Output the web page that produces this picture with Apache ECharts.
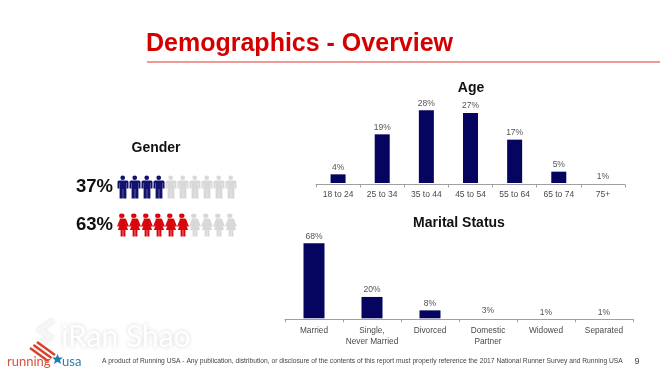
<!DOCTYPE html>
<html><head><meta charset="utf-8">
<style>html,body{margin:0;padding:0;background:#fff}#c{width:660px;height:370px}</style>
<script src="https://cdn.jsdelivr.net/npm/echarts@6/dist/echarts.min.js"></script>
</head><body><div id="c"></div>
<script>
const ageCategories = ['18 to 24','25 to 34','35 to 44','45 to 54','55 to 64','65 to 74','75+'];
const ageValues = [4,19,28,27,17,5,1];
const maritalCategories = ['Married','Single,\nNever Married','Divorced','Domestic\nPartner','Widowed','Separated'];
const maritalValues = [68,20,8,3,1,1];
const genderLabels = ['37%','63%'];
const genderFilledIcons = [4,6];
const iconSlots = [1,2,3,4,5,6,7,8,9,10];

const FONT = '"Liberation Sans", Arial, sans-serif';
const NAVY = '#05055f', RED = '#d8060c', GREY = '#d8d8d8';
const MAN = 'path://M11 0a4.5 4.5 0 1 1 0 9a4.5 4.5 0 1 1 0-9zM3 10h16a3 3 0 0 1 3 3v13h-3.5v-11h-0.5v31h-6.2v-19h-0.6v19h-6.2v-31h-0.5v11h-3.5v-13a3 3 0 0 1 3-3z';
const WOMAN = 'path://M12 0a4.5 4.5 0 1 1 0 9a4.5 4.5 0 1 1 0-9zM7 10h10l2 1 5 15h-3.5l-3-9 5 16h-4.5v13h-3.6v-13h-0.8v13h-3.6v-13h-4.5l5-16-3 9h-3.5l5-15z';

function iconData(row){ return iconSlots.map(s => ({value:[s,row], filled: s <= genderFilledIcons[row]})); }
function barData(vals, hiddenBelow){
  return vals.map(v => v < hiddenBelow ? {value:v, itemStyle:{color:'rgba(0,0,0,0)'}, label:{distance:1}} : {value:v});
}
function catAxis(idx, cats, size, lh, off, margin){
  return {type:'category', gridIndex:idx, data:cats, offset:off,
    axisLine:{show:true, lineStyle:{color:'#a0a0a0', width:1}},
    axisTick:{show:true, length:3, alignWithLabel:false, lineStyle:{color:'#a0a0a0'}},
    axisLabel:{color:'#4a4a4a', fontFamily:FONT, fontSize:size, lineHeight:lh, margin:margin, interval:0}};
}
function hiddenVal(idx, min, max){
  return {type:'value', gridIndex:idx, min:min, max:max, show:false, splitLine:{show:false}};
}
function bars(idx, vals, w, hide){
  return {type:'bar', xAxisIndex:idx, yAxisIndex:idx, data:barData(vals, hide), barWidth:w,
    itemStyle:{color:NAVY}, silent:true,
    label:{show:true, position:'top', distance:2.5, formatter:'{c}%', color:'#555', fontFamily:FONT, fontSize:8.5}};
}
function people(row, sym, w, color){
  return {type:'scatter', xAxisIndex:2, yAxisIndex:2, symbol:sym, symbolSize:[w,23], data:iconData(row), silent:true,
    itemStyle:{color:p => p.data.filled ? color : GREY, opacity:1}};
}
function txt(x,y,text,size,weight,fill,align,extra){
  return {type:'text', x:x, y:y, silent:true, style:Object.assign({text:text, fontFamily:FONT, fontSize:size, fontWeight:weight, fill:fill, align:align||'left', verticalAlign:'middle'}, extra||{})};
}
function stripe(x1,y1,x2,y2){
  return {type:'line', silent:true, shape:{x1,y1,x2,y2}, style:{stroke:'#d8402c', lineWidth:2.4}};
}

const chart = echarts.init(document.getElementById('c'), null, {renderer:'canvas'});
chart.setOption({
  animation:false,
  backgroundColor:'#fff',
  grid:[
    {left:316, top:103, width:309, height:80},
    {left:285, top:240.1, width:348, height:78.2},
    {left:117, top:168, width:120, height:76}
  ],
  xAxis:[
    catAxis(0, ageCategories, 8.5, 11, 1.5, 4.5),
    catAxis(1, maritalCategories, 8.3, 11, 1, 6),
    {type:'value', gridIndex:2, min:0.5, max:10.5, show:false, splitLine:{show:false}}
  ],
  yAxis:[
    hiddenVal(0, 0.75, 30.75),
    hiddenVal(1, 0.9, 70.85),
    {type:'category', gridIndex:2, data:genderLabels, inverse:true,
      axisLine:{show:false}, axisTick:{show:false},
      axisLabel:{color:'#111', fontFamily:FONT, fontWeight:'bold', fontSize:18.5, margin:4}}
  ],
  series:[
    bars(0, ageValues, 15, 2),
    bars(1, maritalValues, 21, 4),
    people(0, MAN, 11, '#12126e'),
    people(1, WOMAN, 12, RED)
  ],
  graphic:[
    {type:'rect', silent:true, shape:{x:147,y:61,width:513,height:2}, style:{fill:'#f09a98'}},
    txt(146,44,'Demographics - Overview',25,'bold','#d40000'),
    txt(471,88,'Age',14,'bold','#111','center'),
    txt(459,223,'Marital Status',14,'bold','#111','center'),
    txt(156,148,'Gender',14,'bold','#111','center'),
    {type:'polyline', silent:true, shape:{points:[[53,320],[40,330],[50,337],[35,350]]},
      style:{stroke:'#f6f6f6', lineWidth:5, fill:null, shadowBlur:3, shadowColor:'#ddd'}},
    txt(61,337,'iRan Shao',30,'normal','#fff','left',{textShadowBlur:4, textShadowColor:'#d4d4d4', fontFamily:'Lato, '+FONT}),
    stripe(37,342,55,355), stripe(33.5,345,51.5,358), stripe(30,348,48,361),
    {type:'polygon', silent:true, shape:{points:[[57.5,354],[59,357.5],[63,357.6],[60,360],[61,364],[57.5,361.8],[54,364],[55,360],[52,357.6],[56,357.5]]}, style:{fill:'#1b7fb0'}},
    txt(7,362,'running',13,'normal','#d8503c','left',{fontFamily:'Lato, '+FONT}),
    txt(62,362,'usa',13,'normal','#2a7fa8','left',{fontFamily:'Lato, '+FONT}),
    txt(102,361,'A product of Running USA - Any publication, distribution, or disclosure of the contents of this report must properly reference the 2017 National Runner Survey and Running USA',6.7,'normal','#444'),
    txt(637,362,'9',9,'normal','#444','center')
  ]
});
</script></body></html>
